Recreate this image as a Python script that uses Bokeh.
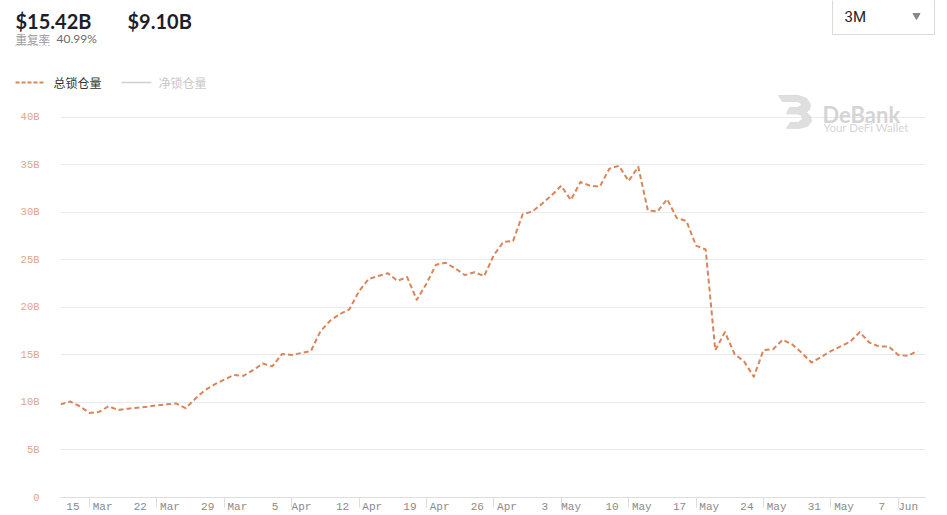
import pandas as pd
from bokeh.plotting import figure
from bokeh.layouts import column
from bokeh.models import Range1d, FixedTicker, ColumnDataSource
from bokeh.core.properties import value
from bokeh.embed import file_html
from bokeh.resources import INLINE

# ---------------- data ----------------
dates = pd.date_range("2021-03-12", "2021-06-09", freq="D")
total_tvl = [
    9.8, 10.1, 9.6, 8.9, 9.0, 9.6, 9.2, 9.35, 9.45, 9.55,
    9.7, 9.8, 9.9, 9.4, 10.4, 11.3, 11.9, 12.4, 12.9, 12.8,
    13.4, 14.1, 13.8, 15.1, 15.0, 15.2, 15.4, 17.5, 18.6, 19.3,
    19.8, 21.7, 23.0, 23.3, 23.6, 22.8, 23.2, 20.8, 22.5, 24.5,
    24.7, 24.1, 23.4, 23.7, 23.3, 25.5, 26.9, 27.0, 29.8, 30.1,
    30.9, 31.8, 32.8, 31.3, 33.2, 32.8, 32.7, 34.6, 34.9, 33.3,
    34.8, 30.2, 30.1, 31.4, 29.4, 29.1, 26.5, 26.1, 15.5, 17.4,
    15.1, 14.3, 12.7, 15.5, 15.6, 16.6, 16.1, 15.2, 14.2, 14.8,
    15.4, 15.9, 16.4, 17.4, 16.3, 15.9, 15.9, 15.0, 14.9, 15.42,
]
x_tick_dates = ["2021-03-15", "2021-03-22", "2021-03-29", "2021-04-05", "2021-04-12",
                "2021-04-19", "2021-04-26", "2021-05-03", "2021-05-10", "2021-05-17",
                "2021-05-24", "2021-05-31", "2021-06-07"]
x_tick_labels = ["15\u00a0\u00a0Mar", "22\u00a0\u00a0Mar", "29\u00a0\u00a0Mar", "5\u00a0\u00a0Apr",
                 "12\u00a0\u00a0Apr", "19\u00a0\u00a0Apr", "26\u00a0\u00a0Apr", "3\u00a0\u00a0May",
                 "10\u00a0\u00a0May", "17\u00a0\u00a0May", "24\u00a0\u00a0May", "31\u00a0\u00a0May",
                 "7\u00a0\u00a0Jun"]
y_ticks = [0, 5, 10, 15, 20, 25, 30, 35, 40]
y_tick_labels = ["0", "5B", "10B", "15B", "20B", "25B", "30B", "35B", "40B"]

stat_total = "$15.42B"
stat_net = "$9.10B"
repeat_label = "重复率"
repeat_value = "40.99%"
series_names = ["总锁仓量", "净锁仓量"]
period = "3M"

# ---------------- styling constants ----------------
LINE_COLOR = "#d98558"
W = 947
HDR_H = 90
CH_H = 425
BORDER_L, BORDER_R, BORDER_T, BORDER_B = 60, 22, 0, 16
FRAME_H = CH_H - BORDER_T - BORDER_B
FRAME_W = W - BORDER_L - BORDER_R

def ms(d):
    return pd.Timestamp(d).value / 1e6

X_START = ms("2021-03-12")
X_END = X_START + 89.83 * 86400000
Y_END = 40 * FRAME_H / (FRAME_H - 27)

# ---------------- header figure (page-pixel coordinates) ----------------
hdr = figure(width=W, height=HDR_H, x_range=Range1d(0, W), y_range=Range1d(HDR_H, 0),
             x_axis_location=None, y_axis_location=None, toolbar_location=None,
             output_backend="svg", min_border=0, outline_line_color=None)
hdr.xgrid.visible = False
hdr.ygrid.visible = False

hdr.text(x=[15], y=[20], text=[stat_total], text_font=value("Lato"), text_font_size="20px",
         text_font_style="bold", text_color="#1c1f2b", text_baseline="alphabetic")
hdr.text(x=[127], y=[20], text=[stat_net], text_font=value("Lato"), text_font_size="20px",
         text_font_style="bold", text_color="#1c1f2b", text_baseline="alphabetic")
hdr.text(x=[15], y=[38], text=[repeat_label], text_font=value("Noto Sans CJK SC"),
         text_font_size="11.5px", text_color="#9a9a9a", text_baseline="middle")
hdr.line(x=[15, 50], y=[45, 45], line_color="#aaaaaa", line_width=1, line_dash="1 2")
hdr.text(x=[56], y=[38], text=[repeat_value], text_font=value("Lato"),
         text_font_size="12px", text_color="#6b6b6b", text_baseline="middle")

# period dropdown
hdr.quad(left=[832], right=[934], top=[-5], bottom=[34], fill_color="white",
         line_color="#d9d9d9", line_width=1)
hdr.text(x=[844], y=[16], text=[period], text_font=value("Roboto"), text_font_size="15px",
         text_color="#222222", text_baseline="middle")
hdr.scatter(x=[916], y=[15], marker="inverted_triangle", size=7, fill_color="#888888",
            line_color="#888888")

# legend
hdr.line(x=[15, 45], y=[82, 82], line_color=LINE_COLOR, line_width=2, line_dash="4 2")
hdr.text(x=[53], y=[82], text=[series_names[0]], text_font=value("Noto Sans CJK SC"),
         text_font_size="12px", text_color="#333333", text_baseline="middle")
hdr.line(x=[121, 151], y=[82, 82], line_color="#d0d0d0", line_width=1.5)
hdr.text(x=[158], y=[82], text=[series_names[1]], text_font=value("Noto Sans CJK SC"),
         text_font_size="12px", text_color="#c8c8c8", text_baseline="middle")

# ---------------- chart figure ----------------
p = figure(width=W, height=CH_H, x_axis_type="datetime",
           x_range=Range1d(X_START, X_END), y_range=Range1d(0, Y_END),
           toolbar_location=None, output_backend="svg", outline_line_color=None,
           min_border_left=BORDER_L, min_border_right=BORDER_R,
           min_border_top=BORDER_T, min_border_bottom=BORDER_B)

for fig in (hdr, p):
    try:
        fig.frame_align = False
    except Exception:
        pass

def wx(px):  # page px -> data x (decoration only)
    return X_START + (px - BORDER_L) / FRAME_W * (X_END - X_START)

def wy(py):  # page px -> data y (decoration only)
    return Y_END - (py - HDR_H) / FRAME_H * Y_END

# watermark
icon_px = [778, 798, 806, 810, 809, 806, 810, 811, 807, 799, 786, 790, 798, 802, 801, 797, 786, 789, 797, 801, 800, 796, 782]
icon_py = [95, 95, 98, 104, 109, 112, 116, 121, 126, 128, 128, 122, 122, 119, 115, 113.5, 113.5, 107, 107, 105, 102, 101, 101]
p.patch(x=[wx(v) for v in icon_px], y=[wy(v) for v in icon_py], fill_color="#dcdcdc",
        line_color="#dcdcdc", fill_alpha=0.9)
p.text(x=[wx(822)], y=[wy(114)], text=["DeBank"], text_font=value("Lato"),
       text_font_size="22px", text_font_style="bold", text_color="#d4d4d4",
       text_baseline="alphabetic")
p.text(x=[wx(823)], y=[wy(127.5)], text=["Your DeFi Wallet"], text_font=value("Lato"),
       text_font_size="11.5px", text_color="#d6d6d6", text_baseline="alphabetic")

src = ColumnDataSource(dict(date=dates, tvl=total_tvl))
p.line(x="date", y="tvl", source=src, line_color=LINE_COLOR, line_width=2,
       line_dash="5 3", line_join="round")

x_ticks = [ms(d) for d in x_tick_dates]
p.xaxis.ticker = FixedTicker(ticks=x_ticks)
p.xaxis.major_label_overrides = {t: l for t, l in zip(x_ticks, x_tick_labels)}
p.xaxis.axis_line_color = "#dddddd"
p.xaxis.major_tick_line_color = "#dddddd"
p.xaxis.major_tick_out = 10
p.xaxis.major_tick_in = 0
p.xaxis.minor_tick_line_color = None
p.xaxis.major_label_standoff = -7
p.xaxis.major_label_text_font = "Liberation Mono"
p.xaxis.major_label_text_font_size = "11px"
p.xaxis.major_label_text_color = "#8a8a8a"

p.yaxis.ticker = FixedTicker(ticks=y_ticks)
p.yaxis.major_label_overrides = {t: l for t, l in zip(y_ticks, y_tick_labels)}
p.yaxis.axis_line_color = None
p.yaxis.major_tick_line_color = None
p.yaxis.minor_tick_line_color = None
p.yaxis.major_label_standoff = 15
p.yaxis.major_label_text_font = "Liberation Mono"
p.yaxis.major_label_text_font_size = "10.5px"
p.yaxis.major_label_text_color = "#e0a48a"

p.xgrid.visible = False
p.ygrid.ticker = FixedTicker(ticks=y_ticks)
p.ygrid.grid_line_color = "#e9e9e9"

layout = column(hdr, p, spacing=0)
open("out.html", "w").write(file_html(layout, INLINE))
